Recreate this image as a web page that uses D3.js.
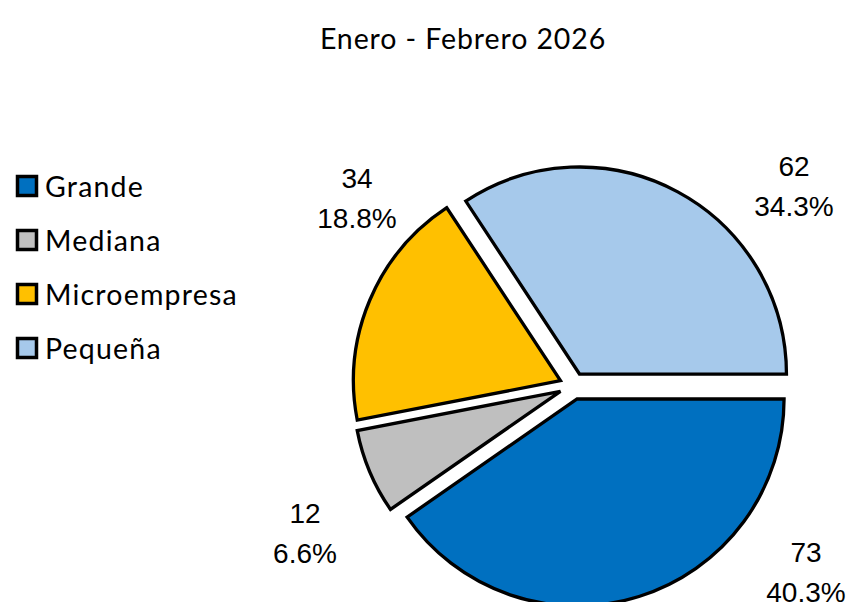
<!DOCTYPE html>
<html>
<head>
<meta charset="utf-8">
<script src="https://cdn.jsdelivr.net/npm/d3@7"></script>
<style>
  html, body { margin: 0; padding: 0; background: #fff; }
  svg { display: block; }
</style>
</head>
<body>
<svg id="chart" width="851" height="602"></svg>
<script>
const categories = ["Grande", "Mediana", "Microempresa", "Pequeña"];
const values = [73, 12, 34, 62];
const percentLabels = ["40.3%", "6.6%", "18.8%", "34.3%"];
const colors = ["#0070C0", "#BFBFBF", "#FFC000", "#A6C9EB"];
const title = "Enero - Febrero 2026";

// layout (not data)
const W = 851, H = 602;
const cx = 573, cy = 386, R = 207, explode = 13.6;
const labelOffsets = [[233, 176], [-268, 137], [-216, -198], [221, -210]]; // baseline of first line relative to center
const textFont = "'Liberation Sans', Arial, sans-serif";
const uiFont = "Lato, 'Open Sans', sans-serif";

const svg = d3.select("#chart");

svg.append("text")
  .attr("x", 463).attr("y", 49)
  .attr("text-anchor", "middle")
  .attr("font-family", uiFont)
  .attr("font-size", 28.5)
  .attr("letter-spacing", 0.9)
  .attr("fill", "#000")
  .text(title);

const pie = d3.pie().sort(null).value(d => d)
  .startAngle(Math.PI / 2).endAngle(Math.PI / 2 + 2 * Math.PI);
const arcs = pie(values);
const arc = d3.arc().innerRadius(0).outerRadius(R);

const g = svg.append("g").attr("transform", `translate(${cx},${cy})`);

g.selectAll("path.slice").data(arcs).enter().append("path")
  .attr("class", "slice")
  .attr("d", arc)
  .attr("fill", (d, i) => colors[i])
  .attr("stroke", "#000")
  .attr("stroke-width", 3.3)
  .attr("stroke-linejoin", "miter")
  .attr("transform", d => {
    const a = (d.startAngle + d.endAngle) / 2;
    return `translate(${explode * Math.sin(a)},${-explode * Math.cos(a)})`;
  });

const lbl = g.selectAll("g.lbl").data(arcs).enter().append("g")
  .attr("class", "lbl")
  .attr("transform", (d, i) => `translate(${labelOffsets[i][0]},${labelOffsets[i][1]})`);
lbl.append("text")
  .attr("text-anchor", "middle")
  .attr("font-family", textFont).attr("font-size", 28).attr("fill", "#000")
  .text(d => d.value);
lbl.append("text")
  .attr("y", 40)
  .attr("text-anchor", "middle")
  .attr("font-family", textFont).attr("font-size", 28).attr("fill", "#000")
  .text((d, i) => percentLabels[i]);

// legend
const legend = svg.append("g");
const rowY = d3.scalePoint().domain(categories).range([197, 359]);
const items = legend.selectAll("g.item").data(categories).enter().append("g")
  .attr("class", "item")
  .attr("transform", d => `translate(0,${rowY(d)})`);
items.append("rect")
  .attr("x", 17.5).attr("y", -20.5)
  .attr("width", 19).attr("height", 19)
  .attr("fill", (d, i) => colors[i])
  .attr("stroke", "#000").attr("stroke-width", 3.5);
items.append("text")
  .attr("x", 45).attr("y", 0)
  .attr("font-family", uiFont).attr("font-size", 28.5)
  .attr("letter-spacing", 1.2)
  .attr("fill", "#000")
  .text(d => d);
</script>
</body>
</html>
